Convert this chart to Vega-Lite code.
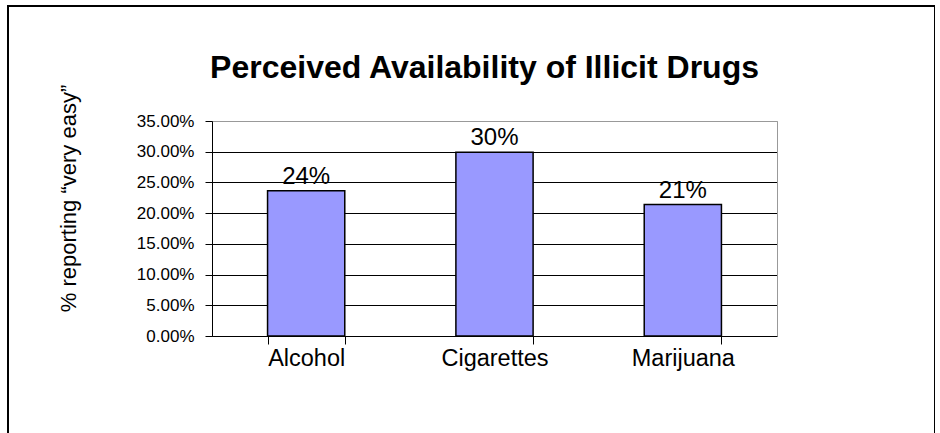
{
  "$schema": "https://vega.github.io/schema/vega-lite/v6.json",
  "width": 927,
  "height": 450,
  "autosize": {"type": "none"},
  "padding": {"left": 8, "top": 6, "right": 0, "bottom": 0},
  "background": "white",
  "config": {
    "view": {"stroke": "black", "strokeWidth": 2},
    "font": "Liberation Sans",
    "axis": {"labelColor": "black", "titleColor": "black", "labelFont": "Liberation Sans", "titleFont": "Liberation Sans"}
  },
  "title": {
    "text": "Perceived Availability of Illicit Drugs",
    "font": "Liberation Sans",
    "fontSize": 32,
    "fontWeight": "bold",
    "color": "black",
    "anchor": "middle",
    "frame": "group",
    "baseline": "alphabetic",
    "offset": -104,
    "dx": 13
  },
  "data": {
    "values": [
      {"drug": "Alcohol", "pct": 0.2365},
      {"drug": "Cigarettes", "pct": 0.299},
      {"drug": "Marijuana", "pct": 0.214}
    ]
  },
  "layer": [
    {
      "mark": {"type": "bar", "fill": "#9999FF", "stroke": "black", "strokeWidth": 1.5},
      "encoding": {
        "x": {
          "field": "drug",
          "type": "nominal",
          "sort": null,
          "scale": {"type": "band", "range": [204, 769], "paddingInner": 0.59, "paddingOuter": 0.295},
          "axis": {
            "orient": "bottom",
            "offset": -120,
            "title": null,
            "labelAngle": 0,
            "labelFontSize": 23.5,
            "labelPadding": 2,
            "tickSize": 8,
            "tickColor": "black",
            "tickBand": "extent",
            "domainColor": "black",
            "grid": false
          }
        },
        "y": {
          "field": "pct",
          "type": "quantitative",
          "scale": {"domain": [0, 0.35], "range": [330, 115], "nice": false, "zero": true},
          "axis": {
            "orient": "left",
            "offset": -204,
            "values": [0, 0.05, 0.1, 0.15, 0.2, 0.25, 0.3, 0.35],
            "format": ".2%",
            "labelFontSize": 17,
            "labelPadding": 11,
            "tickSize": 7,
            "tickColor": "black",
            "domainColor": "black",
            "grid": true,
            "gridColor": {"condition": {"test": "datum.value >= 0.349", "value": "#999999"}, "value": "black"},
            "gridOpacity": 1,
            "title": "% reporting “very easy”",
            "titleFontSize": 22,
            "titleFontWeight": "normal",
            "titleAngle": -90,
            "titleAlign": "center",
            "titleBaseline": "alphabetic",
            "titleX": -137,
            "titleY": 192
          }
        }
      }
    },
    {
      "mark": {"type": "text", "fontSize": 24, "baseline": "alphabetic", "dy": -7, "color": "black"},
      "encoding": {
        "x": {
          "field": "drug",
          "type": "nominal",
          "sort": null,
          "scale": {"type": "band", "range": [204, 769], "paddingInner": 0.59, "paddingOuter": 0.295},
          "axis": {"orient": "top", "offset": -115, "title": null, "labels": false, "ticks": false, "grid": false, "domainColor": "#999999"}
        },
        "y": {
          "field": "pct",
          "type": "quantitative",
          "scale": {"domain": [0, 0.35], "range": [330, 115], "nice": false, "zero": true},
          "axis": {"orient": "right", "offset": -158, "title": null, "labels": false, "ticks": false, "grid": false, "domainColor": "#999999"}
        },
        "text": {"field": "pct", "type": "quantitative", "format": ".0%"}
      }
    }
  ],
  "resolve": {"axis": {"x": "independent", "y": "independent"}}
}
